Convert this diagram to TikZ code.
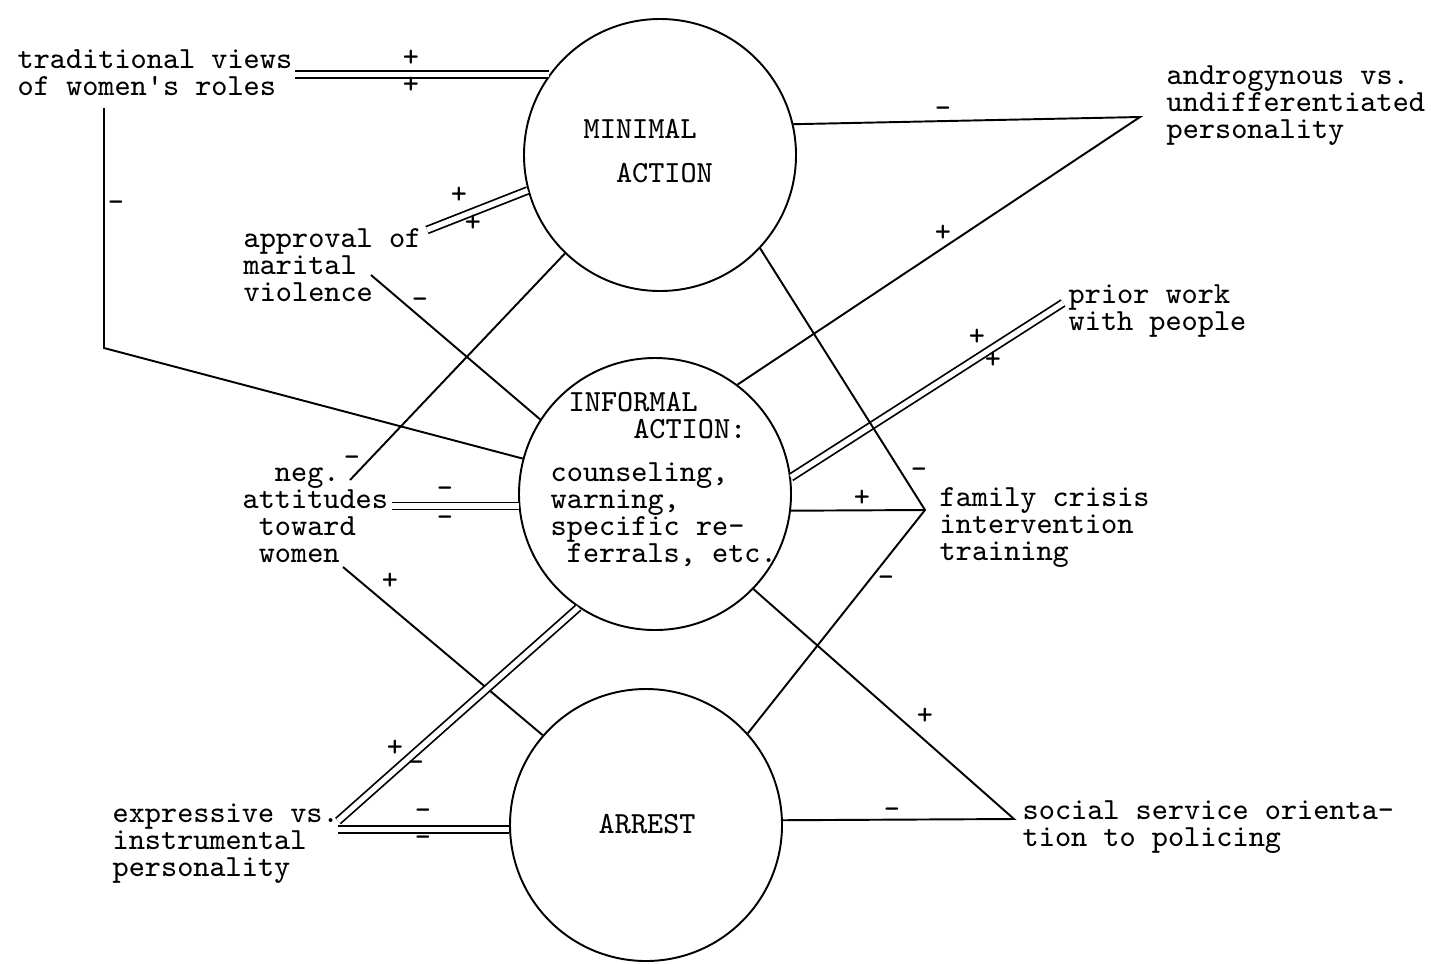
\documentclass[tikz,border=0pt]{standalone}

\begin{document}
\begin{tikzpicture}[x=0.1mm,y=-0.1mm,
  font=\fontsize{8.75}{7.6}\selectfont\ttfamily,
  state/.style={circle, draw, line width=0.55pt, minimum size=27.2mm, inner sep=0pt},
  factor/.style={anchor=base west, inner sep=0pt, align=left},
  link/.style={line width=0.55pt},
  dbl/.style={double, double distance=1.5pt, line width=0.5pt},
  sign/.style={inner sep=0pt, text height=3.6pt, text depth=0pt}]
%frame
\useasboundingbox (0,0) rectangle (1431,963);

%circles
\node[state] (min) at (660,155) {};
\node[state] (inf) at (655,494) {};
\node[state] (arr) at (646,825) {};
%circle texts (placed by last baseline)
\node[factor] (mintxt) at (583,182) {MINIMAL\\[4.8pt]\phantom{xx}ACTION};
\node[factor] (inftop) at (568,438) {INFORMAL\\\phantom{xxxx}ACTION:};
\node[factor] (infbody) at (550,562) {counseling,\\warning,\\specific re-\\\phantom{x}ferrals, etc.};
\node[factor] (arrtxt) at (598,833) {ARREST};

%factors
\node[factor] (trad) at (17,95) {traditional views\\of women's roles};
\node[factor] (appr) at (243,301) {approval of\\marital\\violence};
\node[factor] (neg) at (242,562) {\phantom{xx}neg.\\attitudes\\\phantom{x}toward\\\phantom{x}women};
\node[factor] (expr) at (112,876) {expressive vs.\\instrumental\\personality};
\node[factor] (andr) at (1166,138) {androgynous vs.\\undifferentiated\\personality};
\node[factor] (prior) at (1068,330) {prior work\\with people};
\node[factor] (fam) at (939,560) {family crisis\\intervention\\training};
\node[factor] (soc) at (1022,846) {social service orienta-\\tion to policing};

%free ends
\coordinate (tvA) at (295,75);
\coordinate (tvB) at (104,108);
\coordinate (tvC) at (104,348);
\coordinate (apA) at (427,230);
\coordinate (apB) at (371,275);
\coordinate (ngA) at (350,480);
\coordinate (atA) at (392,506);
\coordinate (wmA) at (343,567);
\coordinate (exA) at (338,821);
\coordinate (anA) at (1140,117);
\coordinate (prA) at (1063,303);
\coordinate (fcA) at (925,510);
\coordinate (ssA) at (1014,819);

%links
\draw[dbl] (min.144 -| tvA) -- (min.144);
\draw[link] (tvB) -- (tvC) -- (inf.165);
\draw[dbl] (apA) -- (min.195);
\draw[link] (apB) -- (inf.147);
\draw[link] (ngA) -- (min.226);
\draw[dbl] (inf.185 -| atA) -- (inf.185);
\draw[link] (wmA) -- (arr.139);
\draw[dbl] (exA) -- (inf.236);
\draw[dbl] (arr.182 -| exA) -- (arr.182);
\draw[link] (min.13) -- (anA) -- (inf.53);
\draw[dbl] (prA) -- (inf.7);
\draw[link] (min.317) -- (fcA) -- (arr.42);
\draw[link] (inf.353) -- (fcA);
\draw[link] (inf.316) -- (ssA) -- (arr.2);

%signs
\foreach \n/\x/\y/\s in {s1/411/60/+, s2/411/87/+, s3/116/205/-,
    s4/459/197/+, s5/473/225/+, s6/420/302/-, s7/352/460/-,
    s8/445/491/-, s9/445/520/-, s10/390/583/+, s11/395/750/+,
    s12/416/765/-, s13/423/813/-, s14/423/840/-, s15/943/111/-,
    s16/943/235/+, s17/977/339/+, s18/993/362/+, s19/919/472/-,
    s20/862/500/+, s21/886/580/-, s22/925/718/+, s23/892/812/-}
  \node[sign] (\n) at (\x,\y) {\s};
\end{tikzpicture}
\end{document}
